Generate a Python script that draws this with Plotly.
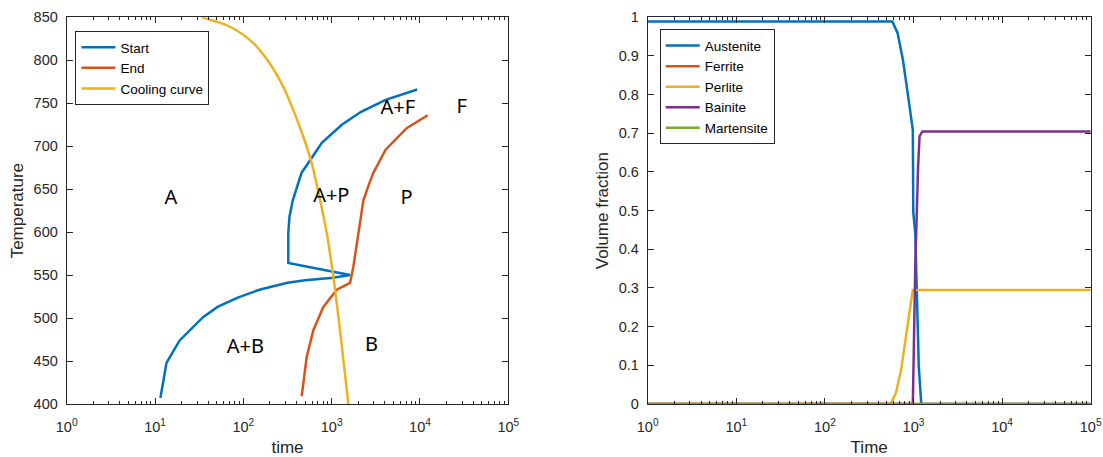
import plotly.graph_objects as go

# ---------------- data: left (CCT diagram) ----------------
start_t = [11.5, 13.5, 19, 35, 51, 88, 152, 316, 500, 1037, 1616, 323, 323, 333, 363, 456, 573, 774, 1303, 2154, 4083, 9290]
start_T = [407, 448, 474, 501, 513, 524, 533, 541, 544, 547, 550, 564, 599, 618, 637, 669, 684, 704, 725, 740, 754, 766]

end_t = [458, 522, 621, 805, 1143, 1616, 1762, 2005, 2287, 2588, 2965, 4083, 7063, 12220]
end_T = [409, 455, 486, 513, 533, 541, 560, 599, 637, 653, 669, 696, 721, 736]

cool_t = [33.8, 70.7, 129.8, 200.5, 283.7, 368, 478, 595, 720, 880, 1045, 1191, 1358, 1546]
cool_T = [850, 839, 820, 796, 769, 742, 711, 680, 643, 599, 548, 502, 451, 400]

region_names = ["A", "A+P", "P", "A+F", "F", "A+B", "B"]
region_t = [15.1, 991, 7063, 5623, 29650, 105.6, 2833]
region_T = [638, 641, 639, 743, 745, 465, 467]

# ---------------- data: right (volume fractions) ----------------
aus_t = [1, 577, 662, 760, 871, 982, 995, 1047, 1096, 1147, 1224, 1e5]
aus_f = [0.989, 0.989, 0.959, 0.890, 0.795, 0.709, 0.494, 0.442, 0.27, 0.097, 0.0, 0.0]

fer_t = [1, 1e5]
fer_f = [0.0, 0.0]

per_t = [1, 551, 632, 726, 832, 982, 1e5]
per_f = [0.0, 0.0, 0.028, 0.089, 0.183, 0.295, 0.295]

bai_t = [1, 982, 1000, 1047, 1127, 1170, 1259, 1e5]
bai_f = [0.0, 0.0, 0.095, 0.356, 0.614, 0.692, 0.705, 0.705]

mar_t = [1, 1e5]
mar_f = [0.0, 0.0]

x_tickvals = [1, 10, 100, 1000, 10000, 100000]
x_ticktext = ["10<sup>0</sup>", "10<sup>1</sup>", "10<sup>2</sup>", "10<sup>3</sup>", "10<sup>4</sup>", "10<sup>5</sup>"]
left_yticks = [400, 450, 500, 550, 600, 650, 700, 750, 800, 850]
right_yticks = [0, 0.1, 0.2, 0.3, 0.4, 0.5, 0.6, 0.7, 0.8, 0.9, 1]
right_yticktext = ["0", "0.1", "0.2", "0.3", "0.4", "0.5", "0.6", "0.7", "0.8", "0.9", "1"]

C_BLUE = "#0072BD"
C_RED = "#D95319"
C_YEL = "#EDB120"
C_PUR = "#7E2F8E"
C_GRN = "#77AC30"
AX = "#262626"
LW = 2.5

fig = go.Figure()

fig.add_trace(go.Scatter(x=start_t, y=start_T, mode="lines", name="Start",
                         line=dict(color=C_BLUE, width=LW), xaxis="x", yaxis="y", legend="legend"))
fig.add_trace(go.Scatter(x=end_t, y=end_T, mode="lines", name="End",
                         line=dict(color=C_RED, width=LW), xaxis="x", yaxis="y", legend="legend"))
fig.add_trace(go.Scatter(x=cool_t, y=cool_T, mode="lines", name="Cooling curve",
                         line=dict(color=C_YEL, width=LW, shape="spline", smoothing=0.8),
                         xaxis="x", yaxis="y", legend="legend"))
fig.add_trace(go.Scatter(x=region_t, y=region_T, mode="text", text=region_names,
                         textfont=dict(family="Noto Sans", size=20, color="#000000"),
                         showlegend=False, xaxis="x", yaxis="y", hoverinfo="skip"))

fig.add_trace(go.Scatter(x=aus_t, y=aus_f, mode="lines", name="Austenite",
                         line=dict(color=C_BLUE, width=LW), xaxis="x2", yaxis="y2", legend="legend2"))
fig.add_trace(go.Scatter(x=fer_t, y=fer_f, mode="lines", name="Ferrite",
                         line=dict(color=C_RED, width=LW), xaxis="x2", yaxis="y2", legend="legend2"))
fig.add_trace(go.Scatter(x=per_t, y=per_f, mode="lines", name="Perlite",
                         line=dict(color=C_YEL, width=LW), xaxis="x2", yaxis="y2", legend="legend2"))
fig.add_trace(go.Scatter(x=bai_t, y=bai_f, mode="lines", name="Bainite",
                         line=dict(color=C_PUR, width=LW), xaxis="x2", yaxis="y2", legend="legend2"))
fig.add_trace(go.Scatter(x=mar_t, y=mar_f, mode="lines", name="Martensite",
                         line=dict(color=C_GRN, width=LW), xaxis="x2", yaxis="y2", legend="legend2"))

tickfont = dict(family="Liberation Sans", size=14.5, color=AX)
titlefont = dict(family="Liberation Sans", size=17, color=AX)

def xaxis_cfg(domain, title, anchor):
    return dict(domain=domain, type="log", range=[0, 5], anchor=anchor, automargin=False,
                tickvals=x_tickvals, ticktext=x_ticktext,
                ticks="inside", ticklen=6, tickcolor=AX, tickwidth=1, ticklabelstandoff=10,
                showline=True, linecolor=AX, linewidth=1, mirror="ticks",
                showgrid=False, zeroline=False, tickfont=tickfont,
                minor=dict(ticks="inside", ticklen=3, tickcolor=AX, dtick="D1", showgrid=False),
                title=dict(text=title, font=titlefont, standoff=9))

def yaxis_cfg(domain, rng, tv, tt, title, anchor):
    return dict(domain=domain, range=rng, anchor=anchor, tickvals=tv, ticktext=tt, automargin=False,
                ticks="inside", ticklen=6, tickcolor=AX, tickwidth=1, ticklabelstandoff=5,
                showline=True, linecolor=AX, linewidth=1, mirror="ticks",
                showgrid=False, zeroline=False, tickfont=tickfont,
                title=dict(text=title, font=titlefont, standoff=5))

ydom = [1 - 404 / 457, 1 - 17.3 / 457]
fig.update_layout(
    width=1103, height=457,
    margin=dict(l=0, r=0, t=0, b=0),
    paper_bgcolor="white", plot_bgcolor="white",
    xaxis=xaxis_cfg([66.7 / 1103, 508.3 / 1103], "time", "y"),
    yaxis=yaxis_cfg(ydom, [400, 850], left_yticks, [str(v) for v in left_yticks], "Temperature", "x"),
    xaxis2=xaxis_cfg([647.7 / 1103, 1090.7 / 1103], "Time", "y2"),
    yaxis2=yaxis_cfg(ydom, [0, 1], right_yticks, right_yticktext, "Volume fraction", "x2"),
    legend=dict(x=75.4 / 1103, y=1 - 31 / 457, xanchor="left", yanchor="top",
                bgcolor="white", bordercolor=AX, borderwidth=1,
                font=dict(family="Liberation Sans", size=13.5, color="#000000"),
                tracegroupgap=0, itemwidth=34),
    legend2=dict(x=659.7 / 1103, y=1 - 29.3 / 457, xanchor="left", yanchor="top",
                 bgcolor="white", bordercolor=AX, borderwidth=1,
                 font=dict(family="Liberation Sans", size=13.5, color="#000000"),
                 tracegroupgap=0, itemwidth=34),
    showlegend=True,
)

fig.write_html("out.html", config={"displayModeBar": False},
               post_script="document.body.style.margin='0';")
